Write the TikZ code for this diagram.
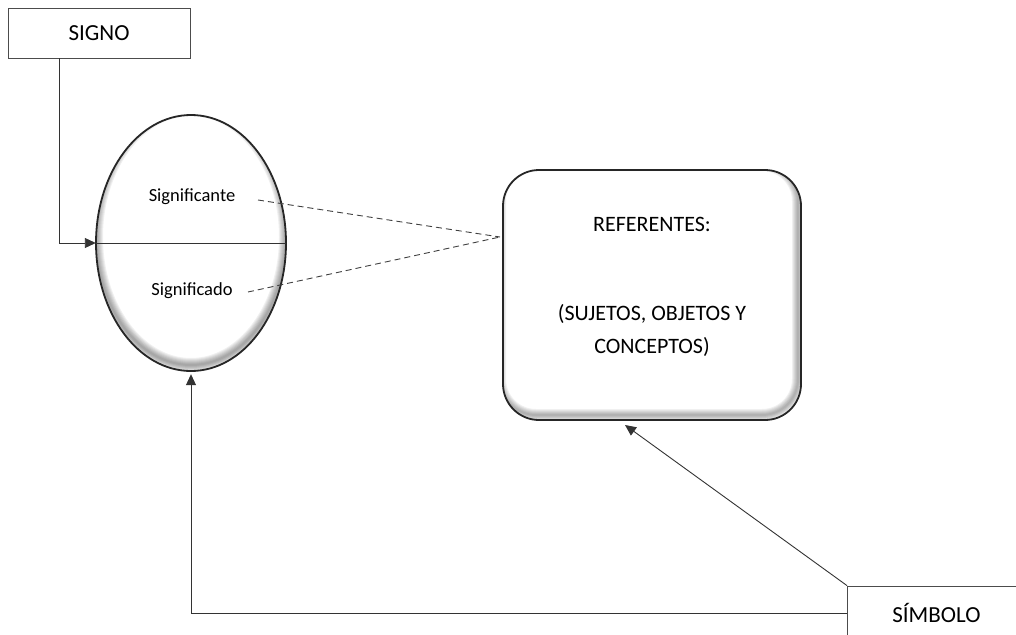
\documentclass[tikz,border=0pt]{standalone}
\usepackage{fontspec}
\setmainfont{Carlito}
\usetikzlibrary{shapes.geometric,arrows.meta,calc}
\begin{document}
\begin{tikzpicture}[x=1pt,y=-1pt,
  labelbox/.style={draw=black!70,line width=0.8pt,minimum width=182pt,minimum height=50pt,inner sep=0pt,font=\fontsize{23}{27}\selectfont},
  conn/.style={draw=black!80,line width=0.9pt},
  tip/.style={-{Triangle[length=11pt,width=10pt]}},
  dashline/.style={draw=black!75,line width=0.9pt,dash pattern=on 6pt off 4pt},
  small/.style={font=\fontsize{18.5}{22}\selectfont}]
\useasboundingbox (0,0) rectangle (1016,634);

% boxes
\node[labelbox] (signo) at (99,33) {SIGNO};
\node[labelbox,minimum height=54pt,anchor=west] (simbolo) at (847,613) {\hspace*{-4pt}SÍMBOLO};

% sign: signifier over signified
\node[draw=none,ellipse,minimum width=190pt,minimum height=256pt,inner sep=0pt] (sign) at (191,243) {};
\begin{scope}
  \clip (191,243) ellipse (95 and 128);
  \foreach \w in {2,4,...,14}
    \draw[black,opacity=0.06,line width=\w pt] (191,237) ellipse (95 and 128);
\end{scope}
\draw[black!85,line width=1.8pt] (191,243) ellipse (95 and 128);
\draw[conn] (sign.west) -- (sign.east);
\node[small] (sante) at (192,197) {Significante};
\node[small] (sado) at (192,291) {Significado};

% referents
\node[draw=none,rounded corners=36pt,minimum width=298pt,minimum height=250pt,inner sep=0pt] (ref) at (652,295) {};
\begin{scope}
  \clip[rounded corners=36pt] (503,170) rectangle (801,420);
  \foreach \w in {2,4,...,12}
    \draw[black,opacity=0.06,line width=\w pt,rounded corners=36pt] (500,165) rectangle (798,415);
\end{scope}
\draw[black!85,line width=1.8pt,rounded corners=36pt] (503,170) rectangle (801,420);
\node[font=\fontsize{22}{26}\selectfont] (reft) at (652,224) {REFERENTES:};
\node[font=\fontsize{22}{33}\selectfont,align=center] (refs) at (652,330) {(SUJETOS, OBJETOS Y\\CONCEPTOS)};

% connectors
\coordinate (sigdrop) at ($(signo.south west)+(52,0)$);
\draw[conn,tip] (sigdrop) |- (sign.west);
\coordinate (dA) at (258,200);
\coordinate (dB) at (248,292);
\coordinate (meet) at (500,237);
\draw[dashline] (dA) -- (meet);
\draw[dashline] (dB) -- (meet);
\coordinate (refin) at (625,425);
\draw[conn,tip] (simbolo.north west) -- (refin);
\draw[conn,tip,shorten >=3pt] (simbolo.west) -| (sign.south);
\end{tikzpicture}
\end{document}
